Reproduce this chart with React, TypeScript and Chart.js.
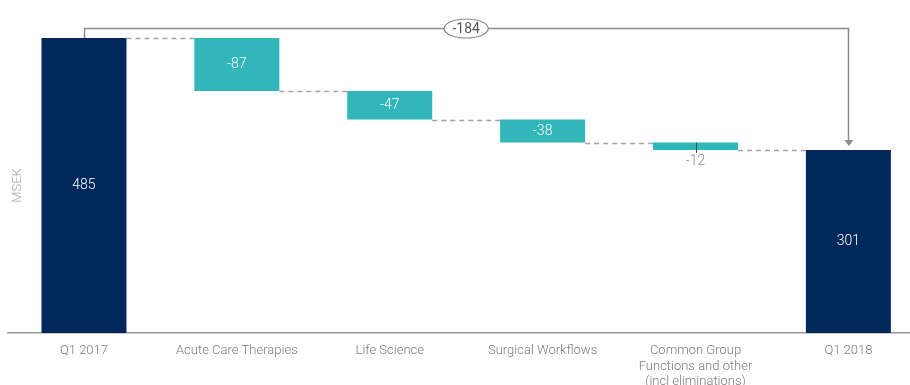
import React, { useEffect, useRef } from "react";
import { Chart, registerables } from "chart.js";

Chart.register(...registerables);

// ---- Data ----
const categories: (string | string[])[] = [
  "Q1 2017",
  "Acute Care Therapies",
  "Life Science",
  "Surgical Workflows",
  ["Common Group", "Functions and other", "(incl eliminations)"],
  "Q1 2018",
];
const startValue = 485;
const deltas = [-87, -47, -38, -12];
const endValue = 301;
const totalChange = -184;
const yAxisTitle = "MSEK";

// ---- Derived series ----
const levels: number[] = [startValue];
deltas.forEach((d) => levels.push(levels[levels.length - 1] + d));
const ranges: [number, number][] = [
  [0, startValue],
  ...deltas.map((d, i) => [levels[i] + d, levels[i]] as [number, number]),
  [0, endValue],
];
const valueLabels: string[] = [String(startValue), ...deltas.map((d) => String(d)), String(endValue)];
const afterLevels: number[] = [...levels]; // level after bar i (connector heights)

const NAVY = "#00285A";
const TEAL = "#31B6BA";
const colors = categories.map((_, i) => (i === 0 || i === categories.length - 1 ? NAVY : TEAL));

const FONT = "Roboto, 'Liberation Sans', sans-serif";

const decorPlugin = {
  id: "waterfallDecor",
  afterDatasetsDraw(chart: any) {
    const ctx = chart.ctx as CanvasRenderingContext2D;
    const els = chart.getDatasetMeta(0).data as any[];
    const ys = chart.scales.y;
    ctx.save();

    // dashed connectors
    ctx.strokeStyle = "#a3a3a3";
    ctx.lineWidth = 1.5;
    ctx.setLineDash([5, 4]);
    for (let i = 0; i < els.length - 1; i++) {
      const a = els[i];
      const b = els[i + 1];
      const py = Math.round(ys.getPixelForValue(afterLevels[i])) + 0.5;
      ctx.beginPath();
      ctx.moveTo(a.x + a.width / 2, py);
      ctx.lineTo(b.x - b.width / 2, py);
      ctx.stroke();
    }
    ctx.setLineDash([]);

    // value labels
    ctx.textAlign = "center";
    ctx.textBaseline = "middle";
    ctx.font = `300 14px ${FONT}`;
    els.forEach((el, i) => {
      const top = Math.min(el.y, el.base);
      const bottom = Math.max(el.y, el.base);
      if (bottom - top < 18) {
        ctx.strokeStyle = "#3a4a4a";
        ctx.lineWidth = 1;
        ctx.beginPath();
        ctx.moveTo(Math.round(el.x) + 0.5, top);
        ctx.lineTo(Math.round(el.x) + 0.5, bottom + 3);
        ctx.stroke();
        ctx.fillStyle = "#8a8a8a";
        ctx.fillText(valueLabels[i], el.x, bottom + 12);
      } else {
        ctx.fillStyle = "#ffffff";
        ctx.fillText(valueLabels[i], el.x, (top + bottom) / 2);
      }
    });

    // bracket with total change
    const first = els[0];
    const last = els[els.length - 1];
    const yStart = ys.getPixelForValue(startValue);
    const yLine = Math.round(yStart - 10) + 0.5;
    const yEnd = ys.getPixelForValue(endValue) - 4;
    ctx.strokeStyle = "#8c8c8c";
    ctx.fillStyle = "#8c8c8c";
    ctx.lineWidth = 1.5;
    ctx.beginPath();
    ctx.moveTo(Math.round(first.x) + 0.5, yStart);
    ctx.lineTo(Math.round(first.x) + 0.5, yLine);
    ctx.lineTo(Math.round(last.x) + 0.5, yLine);
    ctx.lineTo(Math.round(last.x) + 0.5, yEnd - 5);
    ctx.stroke();
    ctx.beginPath();
    ctx.moveTo(last.x - 4, yEnd - 6);
    ctx.lineTo(last.x + 5, yEnd - 6);
    ctx.lineTo(last.x + 0.5, yEnd);
    ctx.closePath();
    ctx.fill();

    const cx = (first.x + last.x) / 2;
    ctx.beginPath();
    ctx.ellipse(cx, yLine, 22, 9.5, 0, 0, Math.PI * 2);
    ctx.fillStyle = "#ffffff";
    ctx.fill();
    ctx.lineWidth = 1.2;
    ctx.stroke();
    ctx.fillStyle = "#555555";
    ctx.font = `400 14px ${FONT}`;
    ctx.fillText(String(totalChange), cx, yLine + 1);

    ctx.restore();
  },
};

export default function App() {
  const canvasRef = useRef<HTMLCanvasElement | null>(null);

  useEffect(() => {
    if (!canvasRef.current) return;
    const chart = new Chart(canvasRef.current, {
      type: "bar",
      data: {
        datasets: [
          {
            data: ranges.map((r, i) => ({ x: i, y: r })) as any,
            backgroundColor: colors,
            borderWidth: 0,
            categoryPercentage: 1,
            barPercentage: 0.556,
          },
        ],
      },
      options: {
        animation: false,
        responsive: true,
        maintainAspectRatio: false,
        layout: { padding: { top: 38, left: 8, right: 0, bottom: 0 } },
        plugins: {
          legend: { display: false },
          tooltip: { enabled: false },
        },
        scales: {
          x: {
            type: "linear",
            min: -0.497,
            max: 5.403,
            offset: false,
            grid: { display: false },
            border: { display: true, color: "#9a9a9a", width: 1.5 },
            afterBuildTicks: (axis: any) => {
              axis.ticks = categories.map((_, i) => ({ value: i }));
            },
            afterFit: (axis: any) => {
              axis.height = 52;
            },
            ticks: {
              autoSkip: false,
              maxRotation: 0,
              minRotation: 0,
              padding: 2,
              color: "#7a7a7a",
              font: { family: FONT, size: 13, weight: "300" as any, lineHeight: 1.2 },
              callback: (value: any) => categories[Number(value)] as any,
            },
          },
          y: {
            min: 0,
            max: startValue,
            grid: { display: false },
            border: { display: false },
            ticks: { display: false },
            afterFit: (axis: any) => {
              axis.width = 0;
            },
            title: {
              display: true,
              text: yAxisTitle,
              color: "#a5a5a5",
              padding: { top: 2, bottom: 0 },
              font: { family: FONT, size: 13, weight: "300" as any },
            },
          },
        },
      },
      plugins: [decorPlugin],
    });
    return () => chart.destroy();
  }, []);

  return (
    <div style={{ position: "absolute", left: 0, top: 0, width: 910, height: 385, background: "#fff" }}>
      <canvas ref={canvasRef} />
    </div>
  );
}
